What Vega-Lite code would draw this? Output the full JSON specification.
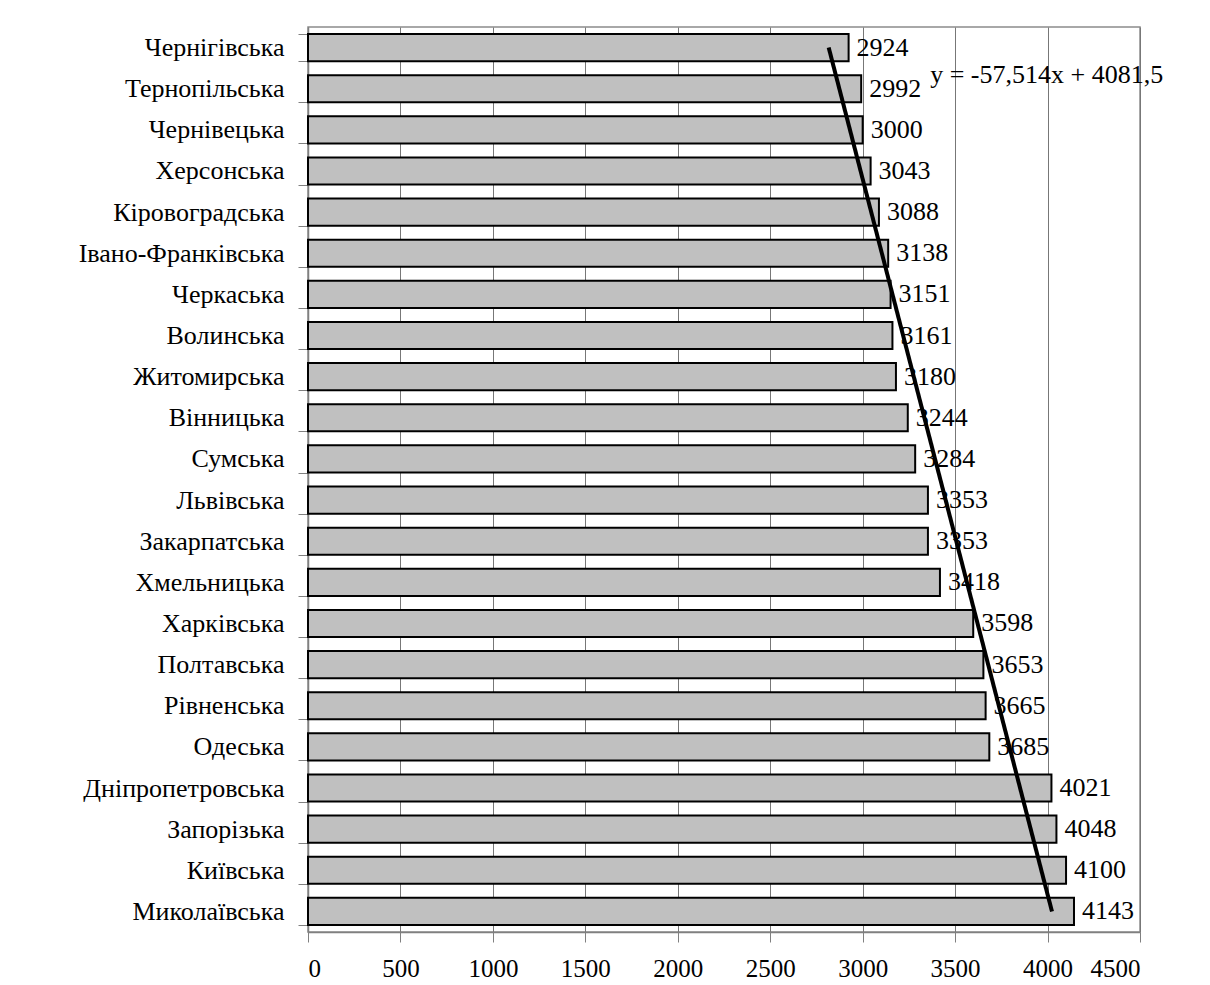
{
  "$schema": "https://vega.github.io/schema/vega-lite/v6.json",
  "autosize": {"type": "none"},
  "width": 832,
  "height": 905,
  "padding": {"left": 308, "top": 27, "right": 70, "bottom": 53},
  "background": "white",
  "config": {
    "view": {"stroke": "#8c8c8c", "strokeWidth": 1.5},
    "font": "Liberation Serif"
  },
  "datasets": {
    "bars": [
      {"region": "Чернігівська", "value": 2924},
      {"region": "Тернопільська", "value": 2992},
      {"region": "Чернівецька", "value": 3000},
      {"region": "Херсонська", "value": 3043},
      {"region": "Кіровоградська", "value": 3088},
      {"region": "Івано-Франківська", "value": 3138},
      {"region": "Черкаська", "value": 3151},
      {"region": "Волинська", "value": 3161},
      {"region": "Житомирська", "value": 3180},
      {"region": "Вінницька", "value": 3244},
      {"region": "Сумська", "value": 3284},
      {"region": "Львівська", "value": 3353},
      {"region": "Закарпатська", "value": 3353},
      {"region": "Хмельницька", "value": 3418},
      {"region": "Харківська", "value": 3598},
      {"region": "Полтавська", "value": 3653},
      {"region": "Рівненська", "value": 3665},
      {"region": "Одеська", "value": 3685},
      {"region": "Дніпропетровська", "value": 4021},
      {"region": "Запорізька", "value": 4048},
      {"region": "Київська", "value": 4100},
      {"region": "Миколаївська", "value": 4143}
    ],
    "trend": [
      {"region": "Чернігівська", "trend": 2816.2},
      {"region": "Миколаївська", "trend": 4024.0}
    ],
    "eq": [
      {"region": "Тернопільська", "x": 3365, "label": "y = -57,514x + 4081,5"}
    ]
  },
  "layer": [
    {
      "data": {"name": "bars"},
      "mark": {"type": "bar", "fill": "#c0c0c0", "stroke": "black", "strokeWidth": 2},
      "encoding": {
        "y": {
          "field": "region", "type": "nominal", "sort": null,
          "scale": {"paddingInner": 0.34, "paddingOuter": 0.17},
          "axis": {
            "title": null, "tickBand": "extent", "tickSize": 10, "tickColor": "#808080",
            "domainColor": "#808080", "domainWidth": 1.5, "labelFontSize": 26,
            "labelColor": "black", "labelPadding": 14, "labelFont": "Liberation Serif", "labelLimit": 400
          }
        },
        "x": {
          "field": "value", "type": "quantitative",
          "scale": {"domain": [0, 4500], "nice": false},
          "axis": {
            "title": null, "values": [0, 500, 1000, 1500, 2000, 2500, 3000, 3500, 4000, 4500],
            "grid": true, "gridColor": "#777777", "gridWidth": 1, "gridOpacity": 1,
            "tickSize": 10, "tickColor": "#808080", "domainColor": "#808080", "domainWidth": 1.5,
            "labelFontSize": 25, "labelColor": "black", "labelPadding": 14,
            "labelFont": "Liberation Serif", "format": "d"
          }
        }
      }
    },
    {
      "data": {"name": "bars"},
      "mark": {"type": "text", "align": "left", "baseline": "middle", "dx": 8, "fontSize": 26, "font": "Liberation Serif", "color": "black"},
      "encoding": {
        "y": {"field": "region", "type": "nominal", "sort": null},
        "x": {"field": "value", "type": "quantitative"},
        "text": {"field": "value", "type": "quantitative", "format": "d"}
      }
    },
    {
      "data": {"name": "trend"},
      "mark": {"type": "line", "color": "black", "strokeWidth": 4},
      "encoding": {
        "y": {"field": "region", "type": "nominal", "sort": null},
        "x": {"field": "trend", "type": "quantitative"}
      }
    },
    {
      "data": {"name": "eq"},
      "mark": {"type": "text", "align": "left", "baseline": "middle", "dy": -14, "fontSize": 26, "font": "Liberation Serif", "color": "black"},
      "encoding": {
        "y": {"field": "region", "type": "nominal", "sort": null},
        "x": {"field": "x", "type": "quantitative"},
        "text": {"field": "label", "type": "nominal"}
      }
    }
  ]
}
